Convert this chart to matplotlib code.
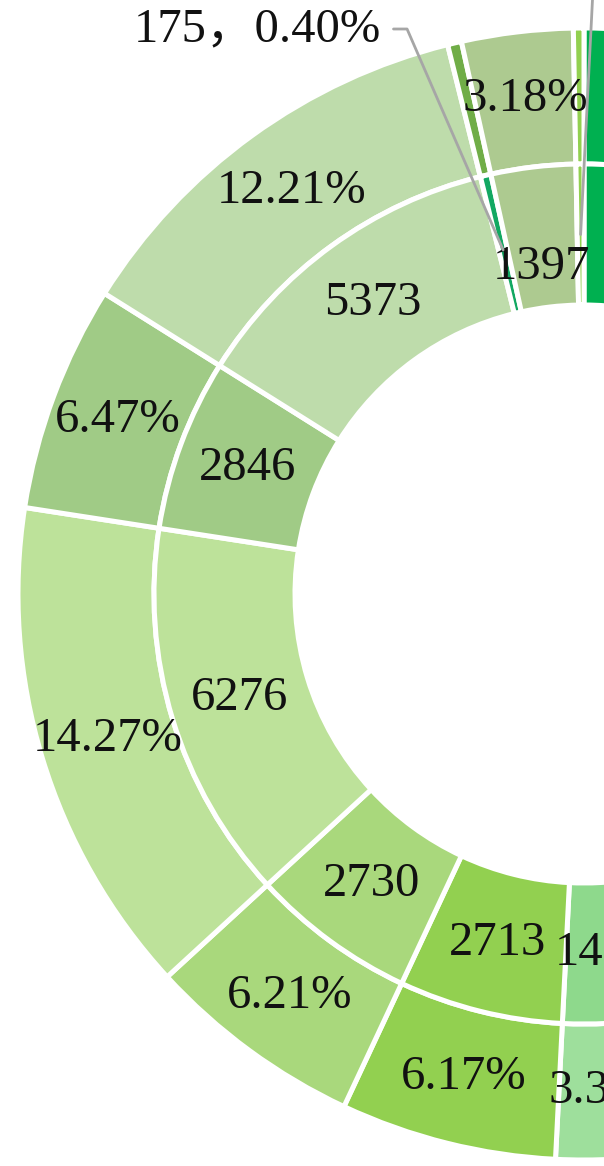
import numpy as np
import matplotlib.pyplot as plt

# data, clockwise from 12 o'clock (right half is outside the crop)
counts = [4120, 3560, 2890, 5210, 3103, 2000, 1465,
          2713, 2730, 6276, 2846, 5373, 175, 1397, 132]
outer_colors = ['#00b050', '#33a853', '#5cb85c', '#7cc576', '#6fcf8a', '#84d48a', '#9edf9c',
                '#92d050', '#a9d87c', '#bde29a', '#a0cb86', '#bedcab', '#70ad47', '#adca90', '#92d050']
inner_colors = ['#00b050', '#33a853', '#5cb85c', '#7cc576', '#6fcf8a', '#84d48a', '#8ed98c',
                '#92d050', '#a9d87c', '#bde29a', '#a0cb86', '#bedcab', '#12a862', '#adca90', '#92d050']
small_cut = 1.0  # percent; smaller slices get a leader-line label

total = sum(counts)
pcts = [c / total * 100 for c in counts]

plt.rcParams['font.family'] = ['Liberation Serif', 'Noto Sans CJK SC']

W, H = 604, 1166
fig = plt.figure(figsize=(W / 100, H / 100), dpi=100)
ax = fig.add_axes([0, 0, 1, 1])

cx, cy = 584, H - 594
R_out, w_out = 566, 136
R_in, w_in = 430, 141

wedges_out, _ = ax.pie(counts, radius=R_out, center=(cx, cy), startangle=90, counterclock=False,
                       colors=outer_colors,
                       wedgeprops=dict(width=w_out, edgecolor='white', linewidth=3.6))
wedges_in, _ = ax.pie(counts, radius=R_in, center=(cx, cy), startangle=90, counterclock=False,
                      colors=inner_colors,
                      wedgeprops=dict(width=w_in, edgecolor='white', linewidth=3.6))


def mid_point(w, r):
    a = np.deg2rad((w.theta1 + w.theta2) / 2)
    return cx + r * np.cos(a), cy + r * np.sin(a)


fs = 35
txt = dict(ha='center', va='center', fontsize=fs, color='#111111')
for i, (wo, wi) in enumerate(zip(wedges_out, wedges_in)):
    if pcts[i] < small_cut:
        continue
    x, y = mid_point(wo, R_out - w_out / 2)
    ax.text(x, y, f"{pcts[i]:.2f}%", **txt)
    x, y = mid_point(wi, R_in - w_in / 2)
    if counts[i] == 1397:
        y -= 30  # label was nudged down in the original
    ax.text(x, y, f"{counts[i]}", **txt)

# moved labels for the tiny slices
lead = dict(arrowstyle='-', color='#a6a6a6', lw=2, shrinkA=7, shrinkB=0)
i175 = counts.index(175)
ax.annotate(f"{counts[i175]}，{pcts[i175]:.2f}%", xy=mid_point(wedges_in[i175], R_in - w_in / 2 - 6),
            xytext=(381, H - 29), ha='right', va='center', fontsize=fs, color='#111111',
            arrowprops=dict(lead, relpos=(1, 0.5),
                            connectionstyle='angle,angleA=0,angleB=-66.5,rad=0'))
i_last = len(counts) - 1
ax.annotate(f"{counts[i_last]}，{pcts[i_last]:.2f}%", xy=mid_point(wedges_in[i_last], R_in - w_in / 2),
            xytext=(594, H + 30), ha='center', va='bottom', fontsize=fs, color='#111111',
            arrowprops=dict(lead, relpos=(0.5, 0)))

ax.set_xlim(0, W)
ax.set_ylim(0, H)
ax.set_aspect('equal')
ax.axis('off')
fig.savefig('out.png', dpi=100)
